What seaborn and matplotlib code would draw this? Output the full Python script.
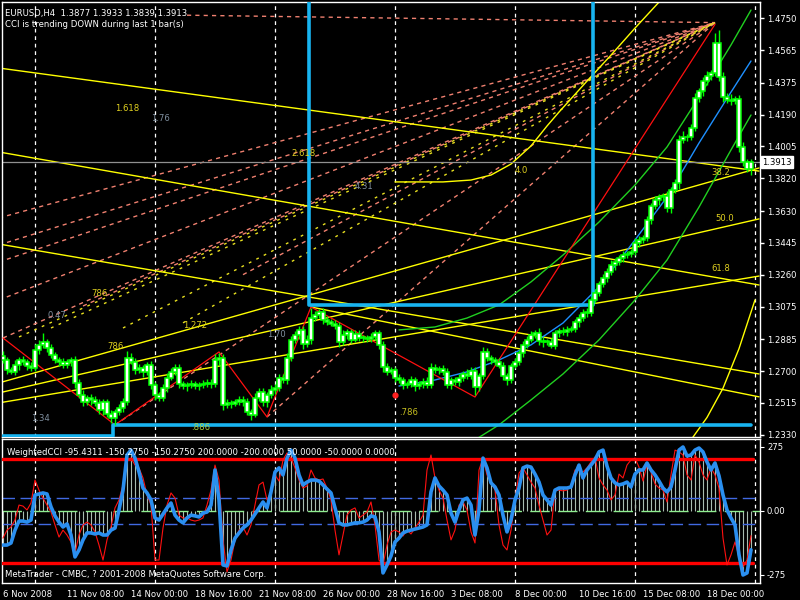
import numpy as np
import pandas as pd
import matplotlib
matplotlib.use("Agg")
import matplotlib.pyplot as plt
import seaborn as sns

# ---- EURUSD H4 candles (one value per bar, bar 0 = 6 Nov 2008) ----
first_open = 1.2790
closes = [
    1.2764, 1.2706, 1.2695, 1.2735, 1.2764, 1.2753, 1.2730, 1.2718, 1.2823, 1.2852,
    1.2869, 1.2834, 1.2793, 1.2764, 1.2753, 1.2735, 1.2753, 1.2764, 1.2631, 1.2561,
    1.2520, 1.2544, 1.2532, 1.2515, 1.2474, 1.2520, 1.2451, 1.2427, 1.2462, 1.2486,
    1.2520, 1.2776, 1.2753, 1.2706, 1.2718, 1.2695, 1.2735, 1.2619, 1.2561, 1.2544,
    1.2602, 1.2660, 1.2695, 1.2718, 1.2625, 1.2613, 1.2619, 1.2625, 1.2613, 1.2619,
    1.2625, 1.2631, 1.2625, 1.2764, 1.2776, 1.2503, 1.2515, 1.2509, 1.2520, 1.2532,
    1.2520, 1.2462, 1.2445, 1.2544, 1.2579, 1.2520, 1.2561, 1.2590, 1.2602, 1.2660,
    1.2648, 1.2776, 1.2881, 1.2910, 1.2939, 1.2857, 1.2881, 1.3008, 1.3026, 1.3043,
    1.2997, 1.2985, 1.2974, 1.2962, 1.2869, 1.2910, 1.2927, 1.2881, 1.2916, 1.2892,
    1.2892, 1.2886, 1.2898, 1.2921, 1.2852, 1.2724, 1.2695, 1.2706, 1.2660, 1.2648,
    1.2619, 1.2625, 1.2648, 1.2613, 1.2625, 1.2637, 1.2619, 1.2718, 1.2706, 1.2712,
    1.2695, 1.2619, 1.2648, 1.2637, 1.2660, 1.2683, 1.2671, 1.2701, 1.2608, 1.2671,
    1.2811, 1.2776, 1.2764, 1.2753, 1.2730, 1.2671, 1.2648, 1.2730, 1.2753, 1.2805,
    1.2852, 1.2881, 1.2910, 1.2921, 1.2875, 1.2869, 1.2869, 1.2846, 1.2921, 1.2933,
    1.2927, 1.2939, 1.2945, 1.2985, 1.3008, 1.3038, 1.3038, 1.3113, 1.3154, 1.3206,
    1.3241, 1.3276, 1.3316, 1.3334, 1.3357, 1.3374, 1.3380, 1.3392, 1.3444, 1.3462,
    1.3473, 1.3578, 1.3659, 1.3694, 1.3711, 1.3717, 1.3648, 1.3752, 1.3793, 1.4043,
    1.4060, 1.4060, 1.4112, 1.4287, 1.4327, 1.4385, 1.4414, 1.4432, 1.4606, 1.4409,
    1.4292, 1.4275, 1.4269, 1.4281, 1.4002, 1.3915, 1.3877, 1.3913,
]
# wick lengths beyond the body, in pips
hi_wick = [
    25, 15, 20, 30, 20, 25, 15, 20, 35, 30, 50, 20, 25, 15, 20, 25, 15, 20, 25, 20,
    30, 15, 20, 25, 20, 15, 20, 25, 20, 20, 25, 40, 30, 20, 25, 15, 20, 25, 15, 20,
    25, 30, 20, 25, 20, 15, 20, 25, 15, 20, 20, 25, 20, 35, 30, 25, 20, 15, 20, 25,
    20, 25, 15, 30, 25, 20, 20, 30, 25, 20, 25, 30, 25, 20, 25, 20, 30, 58, 25, 20,
    25, 20, 15, 20, 25, 30, 20, 15, 25, 20, 20, 15, 25, 20, 20, 25, 20, 15, 20, 25,
    20, 15, 25, 20, 15, 20, 30, 30, 20, 15, 25, 20, 15, 20, 25, 20, 30, 20, 25, 20,
    30, 25, 20, 15, 20, 25, 20, 15, 25, 20, 20, 25, 20, 15, 30, 20, 20, 25, 20, 15,
    20, 25, 15, 20, 25, 20, 30, 20, 25, 20, 25, 20, 30, 20, 15, 25, 20, 20, 30, 25,
    20, 25, 20, 25, 20, 15, 30, 20, 25, 30, 35, 20, 25, 30, 20, 25, 30, 20, 60, 75,
    30, 25, 35, 20, 25, 30, 20, 20,
]
lo_wick = [
    20, 25, 15, 20, 30, 20, 25, 15, 20, 25, 20, 25, 15, 20, 25, 20, 15, 25, 30, 20,
    25, 20, 30, 20, 25, 30, 20, 30, 40, 20, 25, 20, 15, 25, 20, 30, 20, 25, 30, 20,
    20, 25, 15, 20, 25, 20, 30, 20, 15, 25, 20, 15, 25, 20, 30, 30, 20, 25, 15, 20,
    25, 20, 30, 15, 20, 25, 30, 20, 25, 20, 20, 25, 15, 20, 25, 30, 20, 25, 20, 15,
    25, 20, 15, 20, 30, 20, 25, 20, 15, 20, 25, 20, 15, 20, 25, 30, 20, 15, 25, 20,
    25, 20, 15, 30, 20, 25, 20, 15, 20, 25, 20, 15, 25, 20, 25, 20, 15, 20, 50, 25,
    20, 15, 25, 20, 15, 25, 30, 20, 15, 20, 25, 20, 15, 20, 25, 30, 20, 15, 20, 25,
    20, 25, 15, 20, 30, 20, 25, 20, 15, 20, 20, 25, 15, 30, 20, 25, 20, 15, 20, 25,
    20, 15, 25, 20, 30, 20, 25, 30, 20, 35, 20, 25, 20, 15, 25, 30, 20, 25, 20, 25,
    30, 20, 25, 20, 30, 25, 20, 38,
]

# ---- Weighted CCI (thick blue = histogram value, thin red = fast line) ----
cci_blue = [
    -132, -132, -124, -74, -39, -39, -43, -35, 62, 66, 70, 66, 16, -19, -43, -62, -50, -93, -178, -151,
    -112, -85, -85, -89, -85, -93, -93, -74, -66, 4, 81, 217, 236, 205, 151, 89, 70, 43, -27, -35,
    -12, 12, 31, -16, -35, -46, -27, -16, -19, -23, -8, -4, 23, 159, 43, -209, -213, -151, -105, -85,
    -66, -54, -35, -12, 12, 35, 12, 74, 151, 167, 140, 205, 236, 205, 140, 101, 112, 120, 120, 116,
    101, 85, 70, 12, -46, -54, -54, -50, -46, -46, -43, -35, -19, -23, -81, -240, -209, -174, -120, -105,
    -85, -78, -74, -70, -66, -62, -54, 74, 128, 97, 81, 62, -8, -43, 4, 43, 50, 23, -93, 4,
    205, 167, 109, 93, 62, -16, -81, -35, 43, 89, 167, 174, 170, 143, 112, 62, 43, 23, 81, 89,
    89, 89, 93, 140, 178, 128, 159, 178, 198, 229, 236, 174, 128, 109, 101, 105, 112, 93, 143, 159,
    159, 186, 159, 140, 116, 89, 74, 93, 159, 236, 248, 213, 217, 236, 244, 229, 190, 159, 186, 136,
    62, 4, -27, -54, -170, -248, -240, -150.275,
]
cci_red = [
    -105, -74, -62, -35, 23, 19, 4, 31, 120, 81, 50, 23, -4, -54, -101, -74, -93, -120, -163, -93,
    -54, -43, -54, -81, -132, -190, -112, -62, 12, 43, 101, 198, 205, 178, 167, 128, 62, 23, -190, -190,
    -66, 23, 70, 50, -16, -27, -27, -35, -39, -35, -27, 23, 81, 178, 120, -112, -236, -190, -112, -74,
    -62, -93, -54, 23, 101, 112, 43, 74, 140, 116, 198, 225, 205, 167, 120, 89, 97, 159, 128, 120,
    124, 89, 43, -74, -170, -93, -16, 4, 12, -27, -16, -4, 35, -54, -190, -209, -132, -81, -74, -81,
    -97, -74, -89, -66, -43, -16, 159, 217, 128, 81, 50, -35, -112, -74, 23, 35, 4, -81, -124, 159,
    205, 140, 112, 81, -54, -132, -151, -74, 43, 147, 167, 140, 112, 89, 23, -35, -93, -74, 81, 81,
    78, 81, 97, 159, 159, 151, 167, 190, 209, 128, 101, 81, 43, 62, 143, 128, 178, 198, 205, 170,
    116, 178, 151, 105, 89, 81, 35, 140, 236, 229, 217, 140, 120, 217, 190, 140, 120, 167, 140, 89,
    -105, -209, -170, -120, -178, -217, -190, -95.4311,
]

# ---- overlays (bar index, price) ----
zz_bars = [0, 28, 54, 66, 77, 118, 178]
zz_prices = [1.2892, 1.2387, 1.2811, 1.2433, 1.3072, 1.2549, 1.4715]

chan_hi_from = [0, 77, 148]
chan_hi_val = [1.60, 1.3084, 1.60]
chan_lo_from = [0, 28]
chan_lo_val = [1.2323, 1.2387]

reg_bars = [99, 108, 116, 124, 132, 140, 149, 158, 166, 174, 182, 187]
reg_mid = [1.2613, 1.2648, 1.2695, 1.2764, 1.2852, 1.2979, 1.3189, 1.3462, 1.3711, 1.4025, 1.4321, 1.4502]
reg_up = [1.2939, 1.2956, 1.3008, 1.3084, 1.3218, 1.3374, 1.3566, 1.3781, 1.4002, 1.4292, 1.4595, 1.4798]
reg_lo_bars = [108, 116, 124, 132, 140, 149, 158, 166, 174, 182, 187]
reg_lo = [1.2183, 1.2271, 1.2387, 1.2532, 1.2683, 1.2881, 1.3113, 1.3345, 1.3653, 1.3985, 1.4188]

arc_bars = [98, 110, 117, 122, 127, 132, 136, 139, 146, 152, 158, 164]
arc_prices = [1.3799, 1.3799, 1.3810, 1.3839, 1.3903, 1.4008, 1.4124, 1.4205, 1.4385, 1.4536, 1.4693, 1.4844]
arc2_bars = [172, 176, 180, 184, 188]
arc2_prices = [1.2300, 1.2430, 1.2600, 1.2830, 1.3113]

# straight yellow trend / fan lines: (bar0, price0, bar1, price1)
yl_start_bar = [-1, -1, -1, -1, -1, -1, 77]
yl_start_px = [1.2631, 1.2573, 1.2515, 1.4461, 1.3973, 1.3438, 1.3072]
yl_end_bar = [189, 189, 189, 189, 189, 189, 189]
yl_end_px = [1.3880, 1.3584, 1.3252, 1.3862, 1.3200, 1.2683, 1.2550]

# dashed Fibonacci fan lines converging on the December high
fan_apex = (178, 1.4725)
salmon_bars = [46, -1, -1, -1, -1, 0, 28, 66, 20, 60]
salmon_px = [1.4768, 1.3590, 1.3433, 1.3334, 1.3113, 1.2892, 1.2387, 1.2433, 1.3078, 1.3260]
ydash_bars = [4, 12, 30, 45]
ydash_px = [1.2898, 1.2950, 1.2950, 1.2980]

price_ticks = [1.4750, 1.4565, 1.4375, 1.4190, 1.4005, 1.3820, 1.3630,
               1.3445, 1.3260, 1.3075, 1.2885, 1.2700, 1.2515, 1.2330]
date_bars = [0, 16, 32, 48, 64, 80, 96, 112, 128, 144, 160, 176]
date_labels = ["6 Nov 2008", "11 Nov 08:00", "14 Nov 00:00", "18 Nov 16:00",
               "21 Nov 08:00", "26 Nov 00:00", "28 Nov 16:00", "3 Dec 08:00",
               "8 Dec 00:00", "10 Dec 16:00", "15 Dec 08:00", "18 Dec 00:00"]
grid_bars = [8, 38, 68, 98, 128, 158, 188]

# fib / fan labels: text, bar, price, colour
fib_text = ["1.618", "1.76", "2.618", "4.31", "4.0", "38.2", "50.0", "61.8", "786",
            "0.47", "1.272", "786", "1.70", "1.34", ".886", ".786"]
fib_bar = [28, 37, 72, 88, 128, 177, 178, 177, 22, 11, 45, 26, 66, 7, 47, 99]
fib_px = [1.4226, 1.4168, 1.3967, 1.3775, 1.3868, 1.3856, 1.3589, 1.3298, 1.3153, 1.3020,
          1.2967, 1.2845, 1.2915, 1.2426, 1.2374, 1.2461]
fib_col = ["#e0d020", "#8090a0", "#e0d020", "#8090a0", "#e0d020", "#e0d020", "#e0d020",
           "#e0d020", "#e0d020", "#8090a0", "#e0d020", "#e0d020", "#8090a0", "#8090a0",
           "#a8d048", "#c8c020"]

# ---------------------------------------------------------------------------
n = len(closes)
bars = np.arange(n)
opens = np.array([first_open] + closes[:-1])
cl = np.array(closes)
highs = np.maximum(opens, cl) + np.array(hi_wick) / 10000
lows = np.minimum(opens, cl) - np.array(lo_wick) / 10000

sns.set_style("dark", {"axes.facecolor": "black", "figure.facecolor": "black"})
plt.rcParams["font.family"] = ["DejaVu Sans"]
FS = 6.1

fig = plt.figure(figsize=(8, 6), dpi=100, facecolor="black")
ax = fig.add_axes([2 / 800, 1 - 437 / 600, 758 / 800, 435 / 600])
ax2 = fig.add_axes([2 / 800, 1 - 583 / 600, 758 / 800, 144 / 600])
XL = (-0.25, 189.25)

for a in (ax, ax2):
    a.set_facecolor("black")
    a.set_xlim(*XL)
    for s in a.spines.values():
        s.set_color("white")
        s.set_linewidth(1)
    a.grid(False)
    for g in grid_bars:
        a.axvline(g, color="white", ls=(0, (3, 3)), lw=0.9, zorder=1)

ax.set_ylim(1.23166, 1.48447)

# fan lines
for b0, p0 in zip(salmon_bars, salmon_px):
    ax.plot([b0, fan_apex[0]], [p0, fan_apex[1]], color="#f08070", lw=1.0,
            ls=(0, (3, 3)), zorder=2)
for b0, p0 in zip(ydash_bars, ydash_px):
    ax.plot([b0, fan_apex[0]], [p0, fan_apex[1]], color="#e8e020", lw=1.0,
            ls=(0, (2, 4)), zorder=2)

# yellow straight lines and arcs
for b0, p0, b1, p1 in zip(yl_start_bar, yl_start_px, yl_end_bar, yl_end_px):
    ax.plot([b0, b1], [p0, p1], color="#ffff00", lw=1.0, zorder=2)
ax.plot(arc_bars, arc_prices, color="#ffff00", lw=1.0, zorder=2)
ax.plot(arc2_bars, arc2_prices, color="#ffff00", lw=1.0, zorder=2)

# regression channel
sns.lineplot(x=reg_bars, y=reg_mid, ax=ax, color="#1e90ff", lw=1.0, zorder=3)
sns.lineplot(x=reg_bars, y=reg_up, ax=ax, color="#20d020", lw=1.0, zorder=3)
sns.lineplot(x=reg_lo_bars, y=reg_lo, ax=ax, color="#20d020", lw=1.0, zorder=3)

# zigzag
ax.plot(zz_bars, zz_prices, color="#ff1010", lw=0.9, zorder=3)

# step channel (thick cyan)
hi_line = np.empty(n)
for k, start in enumerate(chan_hi_from):
    hi_line[start:] = chan_hi_val[k]
lo_line = np.empty(n)
for k, start in enumerate(chan_lo_from):
    lo_line[start:] = chan_lo_val[k]
ax.step(bars, hi_line, where="mid", color="#18b4f0", lw=2.6, zorder=4)
ax.step(bars, lo_line, where="mid", color="#18b4f0", lw=2.6, zorder=4)

# current price line
ax.axhline(closes[-1], color="#909090", lw=0.9, zorder=2)

# candles
ax.vlines(bars, lows, highs, color="#00ff00", lw=1.0, zorder=5)
body_lo = np.minimum(opens, cl)
body_h = np.maximum(np.abs(cl - opens), 0.0003)
ax.bar(bars, body_h, bottom=body_lo, width=0.8, color="white",
       edgecolor="#00ff00", linewidth=1.1, zorder=6)

# red marker
ax.scatter([98], [1.2561], s=12, color="#ff2020", zorder=7)

for t, b, p, c in zip(fib_text, fib_bar, fib_px, fib_col):
    ax.text(b, p, t, color=c, fontsize=FS, zorder=8, va="center")

# price axis on the right
ax.yaxis.tick_right()
ax.set_yticks(price_ticks)
ax.set_yticklabels([f"{v:.4f}" for v in price_ticks])
ax.tick_params(axis="y", colors="white", labelsize=FS, length=3, width=1,
               direction="out", pad=2)
ax.tick_params(axis="x", bottom=False, labelbottom=False)
ax.text(1.003, closes[-1], f"{closes[-1]:.4f}", transform=ax.get_yaxis_transform(),
        color="black", fontsize=FS, va="center", ha="left",
        bbox=dict(boxstyle="square,pad=0.18", fc="white", ec="white"), zorder=10,
        clip_on=False)

ax.text(0.004, 0.985, "EURUSD,H4  1.3877 1.3933 1.3839 1.3913", transform=ax.transAxes,
        color="white", fontsize=FS, va="top")
ax.text(0.004, 0.958, "CCI is trending DOWN during last 1 bar(s)", transform=ax.transAxes,
        color="white", fontsize=FS, va="top")

# ---- indicator window ----
ax2.set_ylim(-279, 279)
cci = pd.DataFrame({"bar": bars, "blue": cci_blue, "red": cci_red})
ax2.vlines(cci["bar"], 0, cci["blue"], color="#a8bcb0", lw=0.8, zorder=2)
ax2.axhline(0, color="#90ee90", lw=1.0, ls=(0, (14, 6)), zorder=2)
for lvl in (50, -50):
    ax2.axhline(lvl, color="#4169e1", lw=1.0, ls=(0, (9, 4)), zorder=2)
for lvl in (200, -200):
    ax2.plot([-0.25, 187.5], [lvl, lvl], color="#ff0000", lw=2.4, zorder=3)
sns.lineplot(data=cci, x="bar", y="red", ax=ax2, color="#ff1010", lw=0.8, zorder=4)
sns.lineplot(data=cci, x="bar", y="blue", ax=ax2, color="#2a8ff0", lw=2.6, zorder=5)
ax2.set_xlabel("")
ax2.set_ylabel("")

ax2.yaxis.tick_right()
ax2.set_yticks([248, 0, -248])
ax2.set_yticklabels(["275", "0.00", "-275"])
ax2.tick_params(axis="y", colors="white", labelsize=FS, length=3, pad=2)
ax2.set_xticks(date_bars)
ax2.set_xticklabels(date_labels, ha="left")
ax2.tick_params(axis="x", colors="white", labelsize=FS, length=4, pad=1)

ax2.text(0.006, 0.94, "WeightedCCI -95.4311 -150.2750 -150.2750 200.0000 -200.0000 "
         "50.0000 -50.0000 0.0000", transform=ax2.transAxes, color="white",
         fontsize=FS, va="top", zorder=9)
ax2.text(0.004, 0.03, "MetaTrader - CMBC, ? 2001-2008 MetaQuotes Software Corp.",
         transform=ax2.transAxes, color="white", fontsize=FS, va="bottom", zorder=9)

fig.savefig("out.png", dpi=100, facecolor="black")
